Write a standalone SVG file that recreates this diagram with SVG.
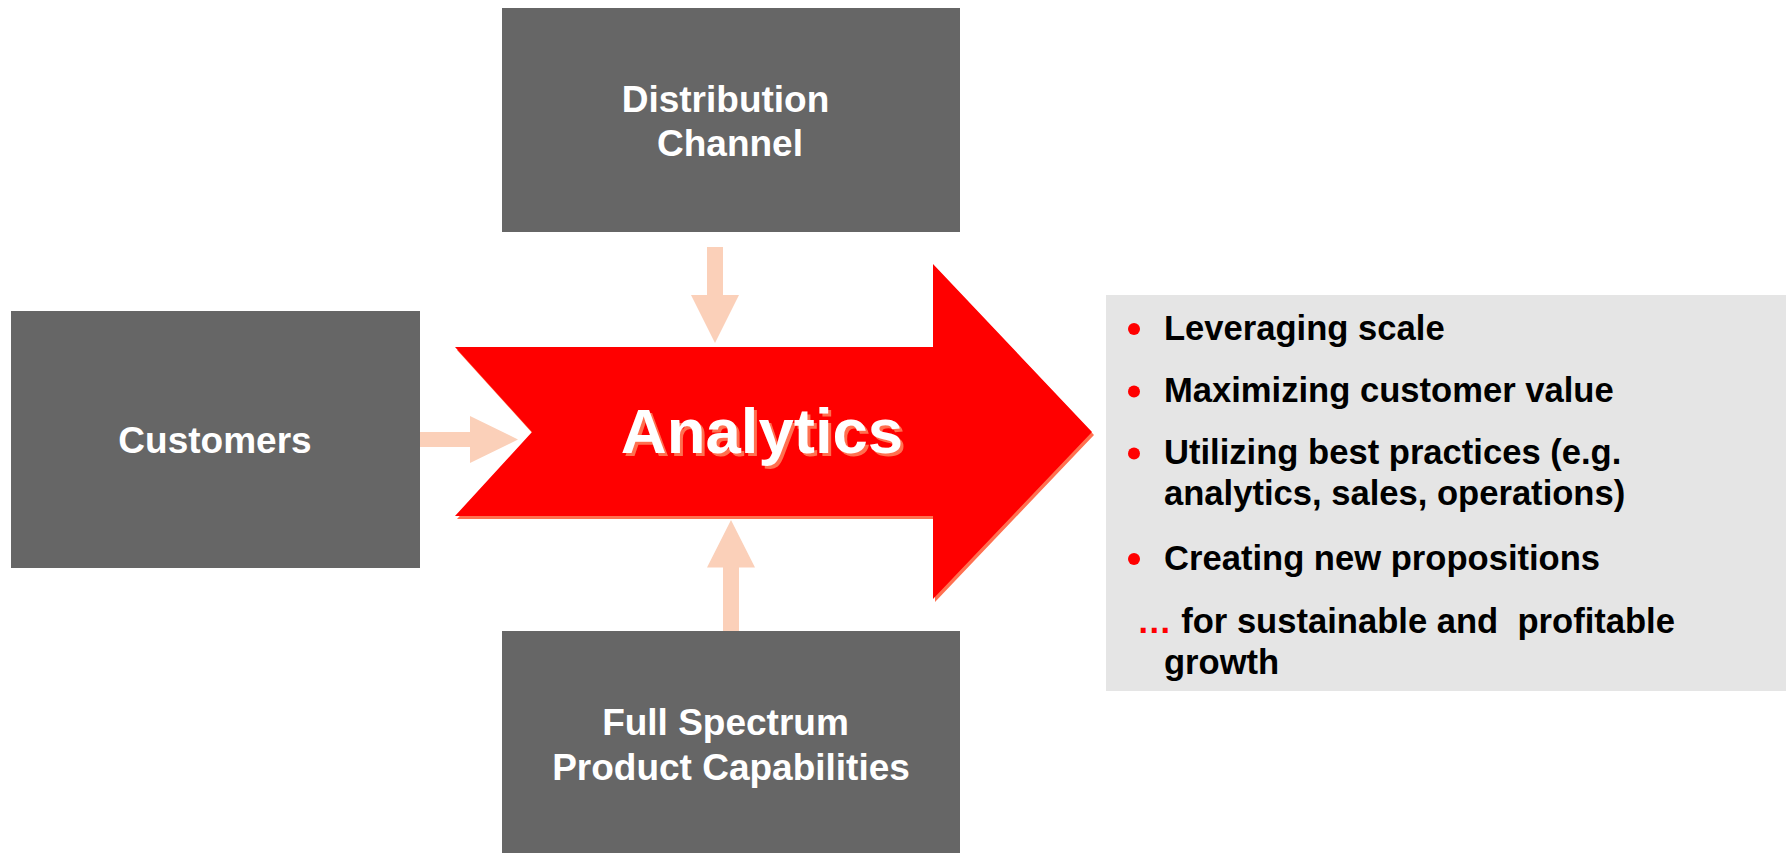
<svg xmlns="http://www.w3.org/2000/svg" width="1791" height="853" viewBox="0 0 1791 853">
  <style>
    .box { fill: #666666; }
    .box-label { font-family: "Liberation Sans", Arial, sans-serif; font-weight: bold; font-size: 37px; fill: #FFFFFF; text-anchor: middle; }
    .feed { fill: #FBD0B9; }
    .panel { fill: #E5E5E5; }
    .item { font-family: "Liberation Sans", Arial, sans-serif; font-weight: bold; font-size: 34.6px; fill: #000000; }
    .dot { fill: #FF0000; }
    .big-label { font-family: "Liberation Sans", Arial, sans-serif; font-weight: bold; font-size: 63.5px; text-anchor: middle; }
  </style>

  <rect width="1791" height="853" fill="#FFFFFF"/>

  <!-- Small feeder arrows into the central arrow -->
  <g id="connectors">
    <polygon class="feed" points="707,247 723,247 723,295 739,295 715,343 691,295 707,295"/>
    <polygon class="feed" points="420,432 470,432 470,416 518,439.5 470,463 470,447 420,447"/>
    <polygon class="feed" points="723,631 739,631 739,567.5 755,567.5 731,520 707,567.5 723,567.5"/>
  </g>

  <!-- Central block arrow -->
  <g id="analytics">
    <polygon fill="#FF7050" points="457,350 935,350 935,267 1094,435 935,602 935,519 457,519 534,435"/>
    <polygon fill="#FF0000" points="455,347 933,347 933,264 1092,432 933,599 933,516 455,516 532,432"/>
    <text class="big-label" x="765" y="456" fill="#FF7050">Analytics</text>
    <text class="big-label" x="762" y="453" fill="#FFFFFF">Analytics</text>
  </g>

  <g id="distribution-channel">
    <rect class="box" x="502" y="8" width="458" height="224"/>
    <text class="box-label" x="725.5" y="111.5">Distribution</text>
    <text class="box-label" x="730" y="155.5">Channel</text>
  </g>

  <g id="customers">
    <rect class="box" x="11" y="311" width="409" height="257"/>
    <text class="box-label" x="215" y="453">Customers</text>
  </g>

  <g id="product-capabilities">
    <rect class="box" x="502" y="631" width="458" height="222"/>
    <text class="box-label" x="725.5" y="735">Full Spectrum</text>
    <text class="box-label" x="731" y="779.5">Product Capabilities</text>
  </g>

  <!-- Outcomes list -->
  <g id="outcomes">
    <rect class="panel" x="1106" y="295" width="680" height="396"/>
    <circle class="dot" cx="1134" cy="329" r="6"/>
    <circle class="dot" cx="1134" cy="391.5" r="6"/>
    <circle class="dot" cx="1134" cy="453.5" r="6"/>
    <circle class="dot" cx="1134" cy="559" r="6"/>
    <text class="item" x="1164" y="339.5">Leveraging scale</text>
    <text class="item" x="1164" y="401.5">Maximizing customer value</text>
    <text class="item" x="1164" y="463.5">Utilizing best practices (e.g.</text>
    <text class="item" x="1164" y="504.5">analytics, sales, operations)</text>
    <text class="item" x="1164" y="569.5">Creating new propositions</text>
    <text class="item" x="1137" y="632.5" xml:space="preserve"><tspan fill="#FF0000">…</tspan> for sustainable and  profitable</text>
    <text class="item" x="1164" y="673.5">growth</text>
  </g>
</svg>
